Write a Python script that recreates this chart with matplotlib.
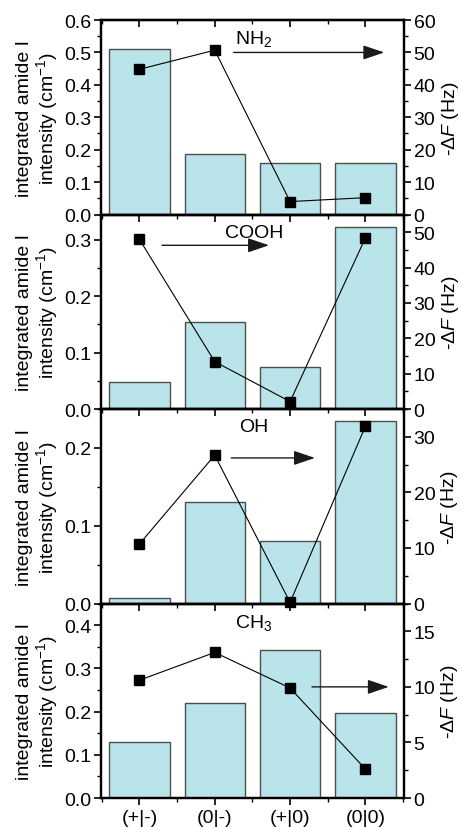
import matplotlib
matplotlib.use("Agg")
import matplotlib.pyplot as plt
from matplotlib.ticker import MultipleLocator

plt.rcParams['font.family'] = ['Liberation Sans', 'DejaVu Sans']
plt.rcParams['mathtext.fontset'] = 'custom'
plt.rcParams['mathtext.rm'] = 'Liberation Sans'
plt.rcParams['mathtext.it'] = 'Liberation Sans:italic'
plt.rcParams['font.size'] = 14

categories = ["(+|-)", "(0|-)", "(+|0)", "(0|0)"]
groups = ["NH$_2$", "COOH", "OH", "CH$_3$"]

amide_nh2 = [0.51, 0.186, 0.160, 0.158]
amide_cooh = [0.048, 0.154, 0.075, 0.322]
amide_oh = [0.007, 0.130, 0.081, 0.235]
amide_ch3 = [0.129, 0.219, 0.342, 0.197]

df_nh2 = [44.8, 50.7, 4.0, 5.2]
df_cooh = [48.0, 13.4, 2.1, 48.4]
df_oh = [10.7, 26.7, 0.2, 31.9]
df_ch3 = [10.6, 13.1, 9.9, 2.6]

amide = [amide_nh2, amide_cooh, amide_oh, amide_ch3]
dfreq = [df_nh2, df_cooh, df_oh, df_ch3]

left_lim = [0.6, 0.345, 0.25, 0.45]
left_major = [0.1, 0.1, 0.1, 0.1]
right_lim = [60, 55, 35, 17.5]
right_major = [10, 10, 10, 5]

# annotation placement (x in category units, y in right-axis units)
label_pos = [(2.52, 54.5), (2.52, 50.0), (2.52, 31.9), (2.52, 15.8)]
arrow_pos = [(2.25, 4.25, 50.0), (1.30, 2.72, 46.3), (2.22, 3.33, 26.2), (3.29, 4.31, 10.0)]

fig, axes = plt.subplots(4, 1, figsize=(4.61, 8.28), dpi=100, sharex=True)
fig.subplots_adjust(left=0.219, right=0.876, top=0.9746, bottom=0.035, hspace=0)

x = list(range(1, len(categories) + 1))
bar_color = '#b9e4ea'

for i, ax in enumerate(axes):
    ax.bar(x, amide[i], width=0.8, color=bar_color, edgecolor='#4d4d4d', linewidth=1.0, zorder=1)
    ax.set_xlim(0.49, 4.51)
    ax.set_ylim(0, left_lim[i])
    ax.yaxis.set_major_locator(MultipleLocator(left_major[i]))
    ax.yaxis.set_minor_locator(MultipleLocator(left_major[i] / 2))
    ax.xaxis.set_minor_locator(MultipleLocator(0.5))
    ax.set_xticks(x)
    ax.set_xticklabels(categories)
    ax.tick_params(axis='y', which='major', direction='out', length=5, width=1.2, pad=2)
    ax.tick_params(axis='y', which='minor', direction='out', length=3, width=1.0)
    ax.tick_params(axis='x', which='major', direction='out', length=5, width=1.2, top=False, pad=3)
    ax.tick_params(axis='x', which='minor', direction='out', length=3, width=1.0, top=False)
    ax.set_ylabel("integrated amide I\nintensity (cm$^{-1}$)", labelpad=3, linespacing=1.05)
    for s in ax.spines.values():
        s.set_linewidth(1.6)

    ax2 = ax.twinx()
    ax2.plot(x, dfreq[i], color='black', linewidth=0.8, marker='s', markersize=7.5,
             markeredgecolor='black', markerfacecolor='black', clip_on=False, zorder=5)
    ax2.set_ylim(0, right_lim[i])
    ax2.yaxis.set_major_locator(MultipleLocator(right_major[i]))
    ax2.yaxis.set_minor_locator(MultipleLocator(right_major[i] / 2))
    ax2.tick_params(axis='y', which='major', direction='out', length=5, width=1.2, pad=2)
    ax2.tick_params(axis='y', which='minor', direction='out', length=3, width=1.0)
    ax2.set_ylabel(r"-$\Delta$$\it{F}$ (Hz)", labelpad=3)
    for s in ax2.spines.values():
        s.set_linewidth(1.6)

    # top ticks pointing inward
    sec = ax.secondary_xaxis('top')
    sec.set_xticks(x)
    sec.xaxis.set_minor_locator(MultipleLocator(0.5))
    sec.set_xticklabels([])
    sec.tick_params(axis='x', which='major', direction='in', length=5, width=1.2)
    sec.tick_params(axis='x', which='minor', direction='in', length=3, width=1.0)
    sec.spines['top'].set_linewidth(1.6)

    lx, ly = label_pos[i]
    ax2.text(lx, ly, groups[i], ha='center', va='center', fontsize=14)
    x0, x1, ya = arrow_pos[i]
    ax2.annotate('', xy=(x1, ya), xytext=(x0, ya),
                 arrowprops=dict(arrowstyle='-|>,head_length=0.65,head_width=0.22',
                                 mutation_scale=20, color='#1a1a1a', lw=1.0,
                                 shrinkA=0, shrinkB=0))

fig.savefig('out.png', dpi=100)
